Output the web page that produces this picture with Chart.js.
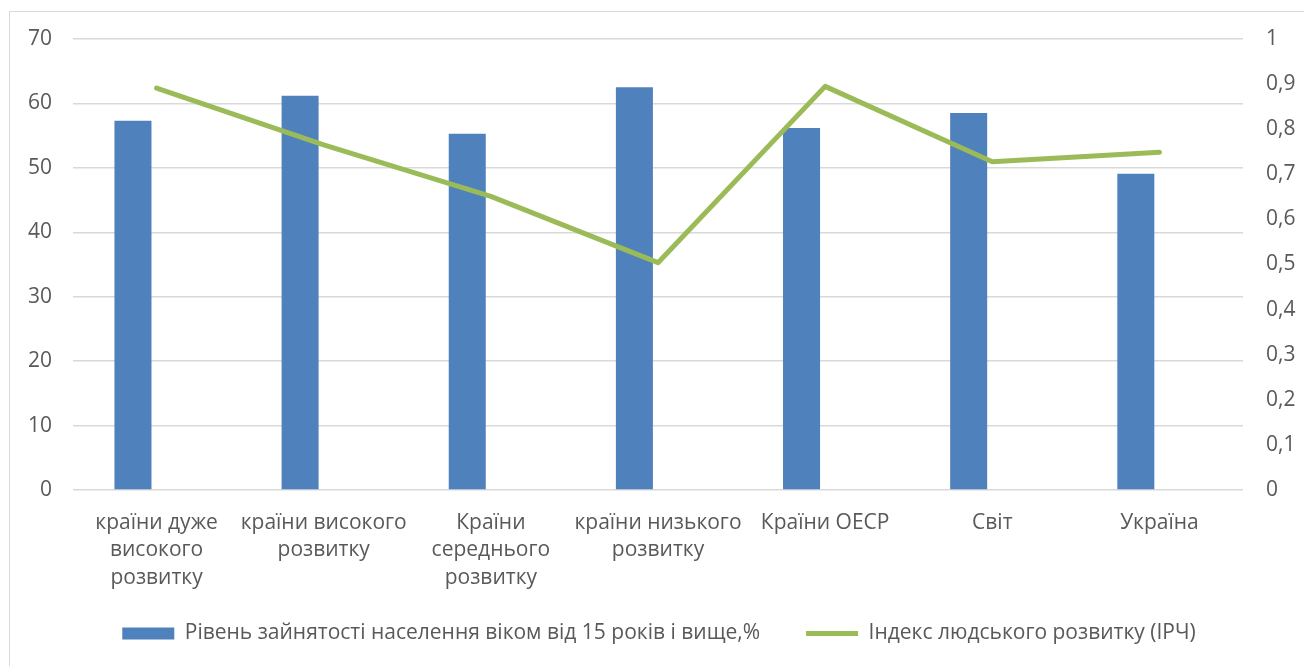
<!DOCTYPE html>
<html>
<head>
<meta charset="utf-8">
<script src="https://cdn.jsdelivr.net/npm/chart.js@4/dist/chart.umd.min.js"></script>
<style>
html,body{margin:0;padding:0;background:#fff;overflow:hidden;}
#wrap{position:relative;width:1304px;height:666px;}
#frame{position:absolute;left:9px;top:11px;width:1400px;height:800px;border:1px solid #d9d9d9;box-sizing:border-box;}
canvas{position:absolute;left:0;top:0;}
</style>
</head>
<body>
<div id="wrap"><div id="frame"></div><canvas id="c" width="1304" height="666"></canvas></div>
<script>
const categories = [
  ["країни дуже", "високого", "розвитку"],
  ["країни високого", "розвитку"],
  ["Країни", "середнього", "розвитку"],
  ["країни низького", "розвитку"],
  "Країни ОЕСР",
  "Світ",
  "Україна"
];
const employmentRate = [57.3, 61.2, 55.3, 62.5, 56.2, 58.5, 49.1];
const hdiIndex = [0.891, 0.765, 0.651, 0.504, 0.895, 0.728, 0.749];
const emptySlot = [null, null, null, null, null, null, null];
const leftTickLabels = ["0", "10", "20", "30", "40", "50", "60", "70"];
const rightTickLabels = ["0", "0,1", "0,2", "0,3", "0,4", "0,5", "0,6", "0,7", "0,8", "0,9", "1"];
const seriesNames = ["Рівень зайнятості населення віком від 15 років і вище,%", "Індекс людського розвитку (ІРЧ)"];

Chart.defaults.font.family = "'Open Sans', sans-serif";
Chart.defaults.font.size = 21;
Chart.defaults.color = '#595959';

// let the multi-line category labels extend below the x-axis box (no clipping),
// and nudge the legend row slightly to the right
const layoutTweaks = {
  id: 'layoutTweaks',
  afterLayout(chart) {
    chart.scales.x.bottom = chart.height;
    chart.legend.left += 7;
    chart.legend.right += 7;
  }
};

new Chart(document.getElementById('c'), {
  data: {
    labels: categories,
    datasets: [
      {
        type: 'line',
        label: seriesNames[1],
        data: hdiIndex,
        yAxisID: 'y1',
        borderColor: '#9bbb59',
        backgroundColor: '#9bbb59',
        borderWidth: 5,
        borderCapStyle: 'round',
        borderJoinStyle: 'round',
        pointRadius: 0,
        pointStyle: 'line',
        tension: 0,
        order: 0
      },
      {
        type: 'bar',
        label: seriesNames[0],
        data: employmentRate,
        yAxisID: 'y',
        backgroundColor: '#4f81bd',
        borderWidth: 0,
        pointStyle: 'rect',
        categoryPercentage: 0.565,
        barPercentage: 0.784,
        order: 1
      },
      {
        type: 'bar',
        label: '',
        data: emptySlot,
        yAxisID: 'y',
        backgroundColor: 'rgba(0,0,0,0)',
        categoryPercentage: 0.565,
        barPercentage: 0.784,
        order: 2
      }
    ]
  },
  plugins: [layoutTweaks],
  options: {
    responsive: false,
    animation: false,
    devicePixelRatio: 1,
    layout: { padding: { left: 0, right: 0, top: 39, bottom: 12 } },
    plugins: {
      tooltip: { enabled: false },
      legend: {
        position: 'bottom',
        reverse: true,
        labels: {
          usePointStyle: true,
          pointStyleWidth: 52,
          boxHeight: 12,
          padding: 46,
          color: '#595959',
          font: { size: 21 },
          filter: item => item.text !== ''
        }
      }
    },
    scales: {
      x: {
        grid: { display: false },
        border: { display: false },
        ticks: { maxRotation: 0, autoSkip: false, padding: 11, font: { size: 21, lineHeight: 1.31 } },
        afterFit: s => { s.height = 87; }
      },
      y: {
        position: 'left',
        min: 0, max: 70,
        ticks: { stepSize: 10, padding: 21, callback: (v, i) => leftTickLabels[i] },
        grid: { color: '#d9d9d9', lineWidth: 1.5, drawTicks: false },
        border: { display: false },
        afterFit: s => { s.width = 73; }
      },
      y1: {
        position: 'right',
        min: 0, max: 1,
        ticks: { stepSize: 0.1, padding: 23, callback: (v, i) => rightTickLabels[i] },
        grid: { display: false, drawTicks: false },
        border: { display: false },
        afterFit: s => { s.width = 61; }
      }
    }
  }
});
</script>
</body>
</html>
